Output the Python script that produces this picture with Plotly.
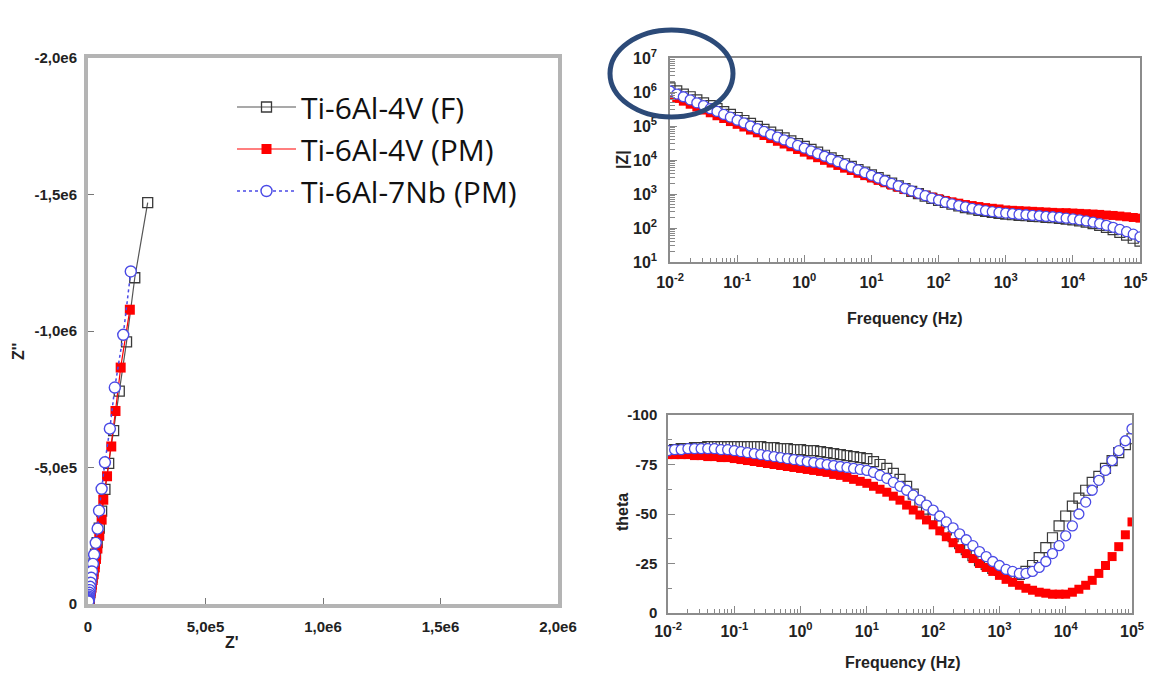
import plotly.graph_objects as go

# ---------------- DATA ----------------
series_names = ["Ti-6Al-4V (F)", "Ti-6Al-4V (PM)", "Ti-6Al-7Nb (PM)"]

# Nyquist (Z', Z'')
nyq_F_re = [2.54e5, 1.99e5, 1.64e5, 1.33e5, 1.09e5, 8.8e4, 7.2e4, 5.8e4, 4.8e4, 3.9e4, 3.2e4, 2.6e4,
            2.1e4, 1.7e4, 1.4e4, 1.15e4, 9.4e3, 7.7e3, 6.3e3, 5.2e3, 4.3e3, 3.6e3, 3.0e3, 2.5e3]
nyq_F_im = [-1.47e6, -1.195e6, -9.6e5, -7.8e5, -6.35e5, -5.15e5, -4.2e5, -3.4e5, -2.78e5, -2.25e5, -1.83e5, -1.49e5,
            -1.21e5, -9.8e4, -8.0e4, -6.5e4, -5.3e4, -4.3e4, -3.5e4, -2.8e4, -2.3e4, -1.85e4, -1.5e4, -1.2e4]
nyq_PM_re = [1.78e5, 1.39e5, 1.17e5, 9.9e4, 8.1e4, 6.5e4, 5.8e4, 4.8e4, 4.0e4, 3.4e4, 2.9e4, 2.4e4,
             2.0e4, 1.7e4, 1.45e4, 1.2e4, 1.0e4, 8.5e3, 7.2e3, 6.1e3, 5.2e3, 4.5e3, 3.9e3, 3.4e3]
nyq_PM_im = [-1.078e6, -8.66e5, -7.07e5, -5.77e5, -4.68e5, -3.82e5, -3.09e5, -2.5e5, -2.03e5, -1.65e5, -1.34e5, -1.09e5,
             -8.8e4, -7.1e4, -5.8e4, -4.7e4, -3.8e4, -3.1e4, -2.5e4, -2.0e4, -1.65e4, -1.35e4, -1.1e4, -9.0e3]
nyq_Nb_re = [1.82e5, 1.5e5, 1.14e5, 9.3e4, 7.2e4, 5.8e4, 4.7e4, 4.1e4, 3.3e4, 2.6e4, 2.1e4, 1.7e4,
             1.4e4, 1.1e4, 9.0e3, 7.3e3, 5.9e3, 4.8e3, 3.9e3, 3.2e3, 2.6e3, 2.1e3, 1.7e3, 1.4e3]
nyq_Nb_im = [-1.218e6, -9.86e5, -7.93e5, -6.42e5, -5.19e5, -4.22e5, -3.42e5, -2.76e5, -2.24e5, -1.81e5, -1.47e5, -1.19e5,
             -9.6e4, -7.8e4, -6.3e4, -5.1e4, -4.1e4, -3.3e4, -2.7e4, -2.2e4, -1.75e4, -1.4e4, -1.15e4, -9.3e3]

# Bode
freq = [0.01, 0.0126, 0.0158, 0.02, 0.0251, 0.0316, 0.0398, 0.0501, 0.0631, 0.0794,
        0.1, 0.126, 0.158, 0.2, 0.251, 0.316, 0.398, 0.501, 0.631, 0.794,
        1, 1.26, 1.58, 2, 2.51, 3.16, 3.98, 5.01, 6.31, 7.94,
        10, 12.6, 15.8, 20, 25.1, 31.6, 39.8, 50.1, 63.1, 79.4,
        100, 126, 158, 200, 251, 316, 398, 501, 631, 794,
        1000, 1260, 1580, 2000, 2510, 3160, 3980, 5010, 6310, 7940,
        10000, 12600, 15800, 20000, 25100, 31600, 39800, 50100, 63100, 79400,
        100000]

zmod_F = [1.318e6, 1.072e6, 8.71e5, 7.24e5, 5.89e5, 4.79e5, 3.98e5, 3.24e5, 2.63e5, 2.19e5,
          1.78e5, 1.45e5, 1.2e5, 9.77e4, 7.94e4, 6.61e4, 5.37e4, 4.47e4, 3.63e4, 3.02e4,
          2.51e4, 2.04e4, 1.70e4, 1.38e4, 1.15e4, 9550, 7760, 6460, 5250, 4370,
          3630, 3020, 2510, 2090, 1740, 1450, 1200, 1020, 871, 741,
          646, 562, 501, 447, 398, 363, 331, 309, 288, 269,
          257, 245, 234, 229, 219, 214, 204, 200, 191, 182,
          174, 162, 148, 135, 120, 105, 89, 74, 62, 50, 41]
zmod_PM = [7.94e5, 6.46e5, 5.37e5, 4.37e5, 3.63e5, 2.95e5, 2.45e5, 2.0e5, 1.66e5, 1.35e5,
           1.12e5, 9.33e4, 7.59e4, 6.31e4, 5.25e4, 4.27e4, 3.55e4, 2.95e4, 2.45e4, 2.04e4,
           1.70e4, 1.41e4, 1.17e4, 9770, 8130, 6920, 5750, 4900, 4070, 3470,
           2950, 2510, 2140, 1820, 1580, 1350, 1170, 1020, 912, 813,
           724, 646, 589, 537, 490, 457, 427, 398, 380, 363,
           339, 331, 324, 316, 309, 302, 295, 288, 282, 282,
           275, 269, 263, 257, 251, 240, 234, 224, 214, 204, 195]
zmod_Nb = [1.07e6, 8.71e5, 7.24e5, 5.89e5, 4.79e5, 3.98e5, 3.24e5, 2.69e5, 2.19e5, 1.82e5,
           1.48e5, 1.23e5, 1.0e5, 8.32e4, 6.92e4, 5.62e4, 4.68e4, 3.89e4, 3.24e4, 2.69e4,
           2.24e4, 1.86e4, 1.55e4, 1.29e4, 1.07e4, 8910, 7410, 6170, 5130, 4270,
           3550, 2950, 2450, 2040, 1740, 1450, 1230, 1050, 891, 759,
           661, 575, 513, 457, 417, 380, 347, 324, 302, 288,
           275, 263, 251, 245, 234, 229, 219, 214, 204, 195,
           186, 174, 162, 148, 135, 120, 105, 91, 78, 66, 55]

theta_F = [-82, -82.5, -83, -83, -83.5, -83.5, -84, -84, -84, -84,
           -84, -84, -84, -84, -84, -83.5, -83.5, -83, -83, -82.5,
           -82.5, -82, -82, -81.5, -81, -80.5, -80, -79.5, -79, -78.5,
           -78, -76.5, -75, -73, -70.5, -67.5, -64, -60, -56, -52.5,
           -49, -45.5, -42, -38.5, -35, -32, -29, -26.5, -24.5, -22.5,
           -21.5, -20, -19.5, -19.5, -21, -24, -28, -33, -38, -44,
           -49, -54, -58, -62, -66, -69, -73, -77, -81, -85, -88]
theta_PM = [-80, -80, -80, -80, -79.5, -79.5, -79, -79, -78.5, -78.5,
            -78, -77.5, -77, -76.5, -76, -75.5, -75, -74.5, -74, -73.5,
            -73, -72.5, -72, -71.5, -71, -70, -69.5, -68.5, -67.5, -66.5,
            -65.5, -64, -62.5, -61, -59, -57, -54.5, -52, -49.5, -47,
            -44.5, -41.5, -38.5, -35.5, -32.5, -30, -27.5, -25, -23, -21,
            -19, -17, -15.5, -14, -12.5, -11.5, -10.5, -10, -9.5, -9.5,
            -9.5, -10.5, -12, -14, -16.5, -20, -24, -28.5, -33.5, -39.5, -46]
theta_Nb = [-82, -82.5, -82.5, -83, -83, -83, -83, -83, -82.5, -82.5,
            -82, -81.5, -81, -80.5, -80, -79.5, -79, -78.5, -78, -77.5,
            -77, -76.5, -76, -75.5, -75, -74.5, -74, -73.5, -73, -72.5,
            -72, -71, -69.5, -68, -66, -64, -62, -59.5, -57, -54.5,
            -52, -49, -46, -43, -40, -37, -34, -31, -28.5, -26,
            -24, -22, -21, -20, -20, -21, -23, -26, -30, -34,
            -39, -44, -50, -56, -62, -67, -72, -77, -82, -87, -93]

nyq_xticks = [0, 5e5, 1e6, 1.5e6, 2e6]
nyq_xlabels = ["0", "5,0e5", "1,0e6", "1,5e6", "2,0e6"]
nyq_yticks = [0, -5e5, -1e6, -1.5e6, -2e6]
nyq_ylabels = ["0", "-5,0e5", "-1,0e6", "-1,5e6", "-2,0e6"]
freq_ticks = [1e-2, 1e-1, 1, 10, 100, 1e3, 1e4, 1e5]
freq_labels = ["10<sup>-2</sup>", "10<sup>-1</sup>", "10<sup>0</sup>", "10<sup>1</sup>",
               "10<sup>2</sup>", "10<sup>3</sup>", "10<sup>4</sup>", "10<sup>5</sup>"]
z_ticks = [10, 100, 1e3, 1e4, 1e5, 1e6, 1e7]
z_labels = ["10<sup>1</sup>", "10<sup>2</sup>", "10<sup>3</sup>", "10<sup>4</sup>",
            "10<sup>5</sup>", "10<sup>6</sup>", "10<sup>7</sup>"]
th_ticks = [0, -25, -50, -75, -100]
th_labels = ["0", "-25", "-50", "-75", "-100"]

# ---------------- STYLE / LAYOUT ----------------
# page is 1156x680; the html body keeps an 8px margin, so the figure is sized to fit inside it
OFF = 8
W, H = 1156 - 2 * OFF, 680 - 2 * OFF
def fx(p): return (p - OFF) / W
def fy(p): return 1 - (p - OFF) / H

TICKFONT = dict(family="Liberation Sans", size=15, color="#222", weight="bold")
LOGFONT = dict(family="Liberation Sans", size=16, color="#222", weight="bold")
C_F, C_PM, C_NB = "#3a3a3a", "#ff0000", "#4a4ae6"

# last label of the upper frequency axis sits at the page edge: pad it so it stays visible
freq_labels_top = freq_labels[:-1] + [freq_labels[-1] + "\u00a0\u00a0"]

fig = go.Figure()

# Nyquist
fig.add_trace(go.Scatter(x=nyq_F_re, y=nyq_F_im, mode="lines+markers", name=series_names[0],
                         line=dict(color="#555555", width=1.2),
                         marker=dict(symbol="square-open", size=10, color=C_F, line=dict(width=1.3)),
                         xaxis="x", yaxis="y", legendgroup="a"))
fig.add_trace(go.Scatter(x=nyq_PM_re, y=nyq_PM_im, mode="lines+markers", name=series_names[1],
                         line=dict(color=C_PM, width=1.2),
                         marker=dict(symbol="square", size=10, color=C_PM),
                         xaxis="x", yaxis="y", legendgroup="b"))
fig.add_trace(go.Scatter(x=nyq_Nb_re, y=nyq_Nb_im, mode="lines+markers", name=series_names[2],
                         line=dict(color=C_NB, width=1.5, dash="dot"),
                         marker=dict(symbol="circle", size=11, color="white", line=dict(color=C_NB, width=1.4)),
                         xaxis="x", yaxis="y", legendgroup="c"))

# Bode |Z| and theta
for ys, yt, sym, col, fill in [(zmod_F, theta_F, "square-open", C_F, None),
                               (zmod_PM, theta_PM, "square", C_PM, C_PM),
                               (zmod_Nb, theta_Nb, "circle", C_NB, "white")]:
    if sym == "square-open":
        mk = dict(symbol=sym, size=10, color=col, line=dict(width=1.2))
    elif sym == "square":
        mk = dict(symbol=sym, size=9, color=col)
    else:
        mk = dict(symbol=sym, size=10, color=fill, line=dict(color=col, width=1.3))
    fig.add_trace(go.Scatter(x=freq, y=ys, mode="markers", marker=mk, showlegend=False,
                             xaxis="x2", yaxis="y2"))
    fig.add_trace(go.Scatter(x=freq, y=yt, mode="markers", marker=mk, showlegend=False,
                             xaxis="x3", yaxis="y3"))

minor_freq = [m * 10 ** e for e in range(-2, 5) for m in range(2, 10)]
minor_z = [m * 10 ** e for e in range(1, 7) for m in range(2, 10)]

frame_thick = dict(showline=True, mirror=True, linecolor="#b4b4b4", linewidth=4,
                   showgrid=False, zeroline=False, ticks="inside", ticklen=6,
                   tickcolor="#777", tickwidth=1, tickfont=TICKFONT, automargin=False,
                   ticklabeloverflow="allow")
frame_thin = dict(showline=True, mirror=True, linecolor="#8c8c8c", linewidth=1.5,
                  showgrid=False, zeroline=False, ticks="inside", ticklen=7,
                  tickcolor="#888", tickwidth=1, automargin=False,
                  ticklabeloverflow="allow")

fig.update_layout(
    width=W, height=H, paper_bgcolor="white", plot_bgcolor="white",
    margin=dict(l=0, r=0, t=0, b=0, autoexpand=False),
    xaxis=dict(domain=[fx(88), fx(558)], range=[0, 2e6], tickmode="array",
               tickvals=nyq_xticks, ticktext=nyq_xlabels, anchor="y",
               ticklabelstandoff=6, **frame_thick),
    yaxis=dict(domain=[fy(604), fy(58)], range=[0, -2e6], tickmode="array",
               tickvals=nyq_yticks, ticktext=nyq_ylabels, anchor="x",
               ticklabelstandoff=4, **frame_thick),
    xaxis2=dict(domain=[fx(670), fx(1140)], type="log", range=[-2, 5], tickmode="array",
                tickvals=freq_ticks, ticktext=freq_labels_top, anchor="y2", ticklabelstandoff=5,
                tickfont=LOGFONT,
                minor=dict(tickmode="array", tickvals=minor_freq, ticks="inside", ticklen=4,
                           tickcolor="#888", showgrid=False),
                **frame_thin),
    yaxis2=dict(domain=[fy(262), fy(58)], type="log", range=[1, 7], tickmode="array",
                tickvals=z_ticks, ticktext=z_labels, anchor="x2", ticklabelstandoff=8,
                tickfont=LOGFONT,
                minor=dict(tickmode="array", tickvals=minor_z, ticks="inside", ticklen=5,
                           tickcolor="#888", showgrid=False),
                **frame_thin),
    xaxis3=dict(domain=[fx(668), fx(1132)], type="log", range=[-2, 5], tickmode="array",
                tickvals=freq_ticks, ticktext=freq_labels, anchor="y3", ticklabelstandoff=3,
                tickfont=LOGFONT,
                minor=dict(tickmode="array", tickvals=minor_freq, ticks="inside", ticklen=4,
                           tickcolor="#888", showgrid=False),
                **frame_thin),
    yaxis3=dict(domain=[fy(613), fy(415)], range=[0, -100], tickmode="array",
                tickvals=th_ticks, ticktext=th_labels, anchor="x3", ticklabelstandoff=6,
                tickfont=TICKFONT,
                minor=dict(tickmode="array", tickvals=[-12.5, -37.5, -62.5, -87.5], ticks="inside",
                           ticklen=4, tickcolor="#888", showgrid=False),
                **frame_thin),
    legend=dict(x=fx(232), y=fy(81), xanchor="left", yanchor="top",
                font=dict(family="Open Sans", size=30, color="#111"),
                bgcolor="rgba(0,0,0,0)", tracegroupgap=0, itemwidth=59),
    showlegend=True,
)

TITLEFONT = dict(family="Liberation Sans", size=16, color="#222", weight="bold")
ann = [
    dict(text="Z'", x=fx(232), y=fy(642)),
    dict(text="Z''", x=fx(18), y=fy(352), textangle=-90),
    dict(text="|Z|", x=fx(623), y=fy(160), textangle=-90),
    dict(text="Frequency (Hz)", x=fx(905), y=fy(318)),
    dict(text="theta", x=fx(622), y=fy(512), textangle=-90),
    dict(text="Frequency (Hz)", x=fx(903), y=fy(662)),
]
for a in ann:
    fig.add_annotation(xref="paper", yref="paper", showarrow=False, font=TITLEFONT,
                       xanchor="center", yanchor="middle", **a)

fig.add_shape(type="circle", xref="paper", yref="paper",
              x0=fx(610), x1=fx(733), y0=fy(117), y1=fy(30),
              line=dict(color="#2c4a78", width=5))

fig.write_html("out.html")
